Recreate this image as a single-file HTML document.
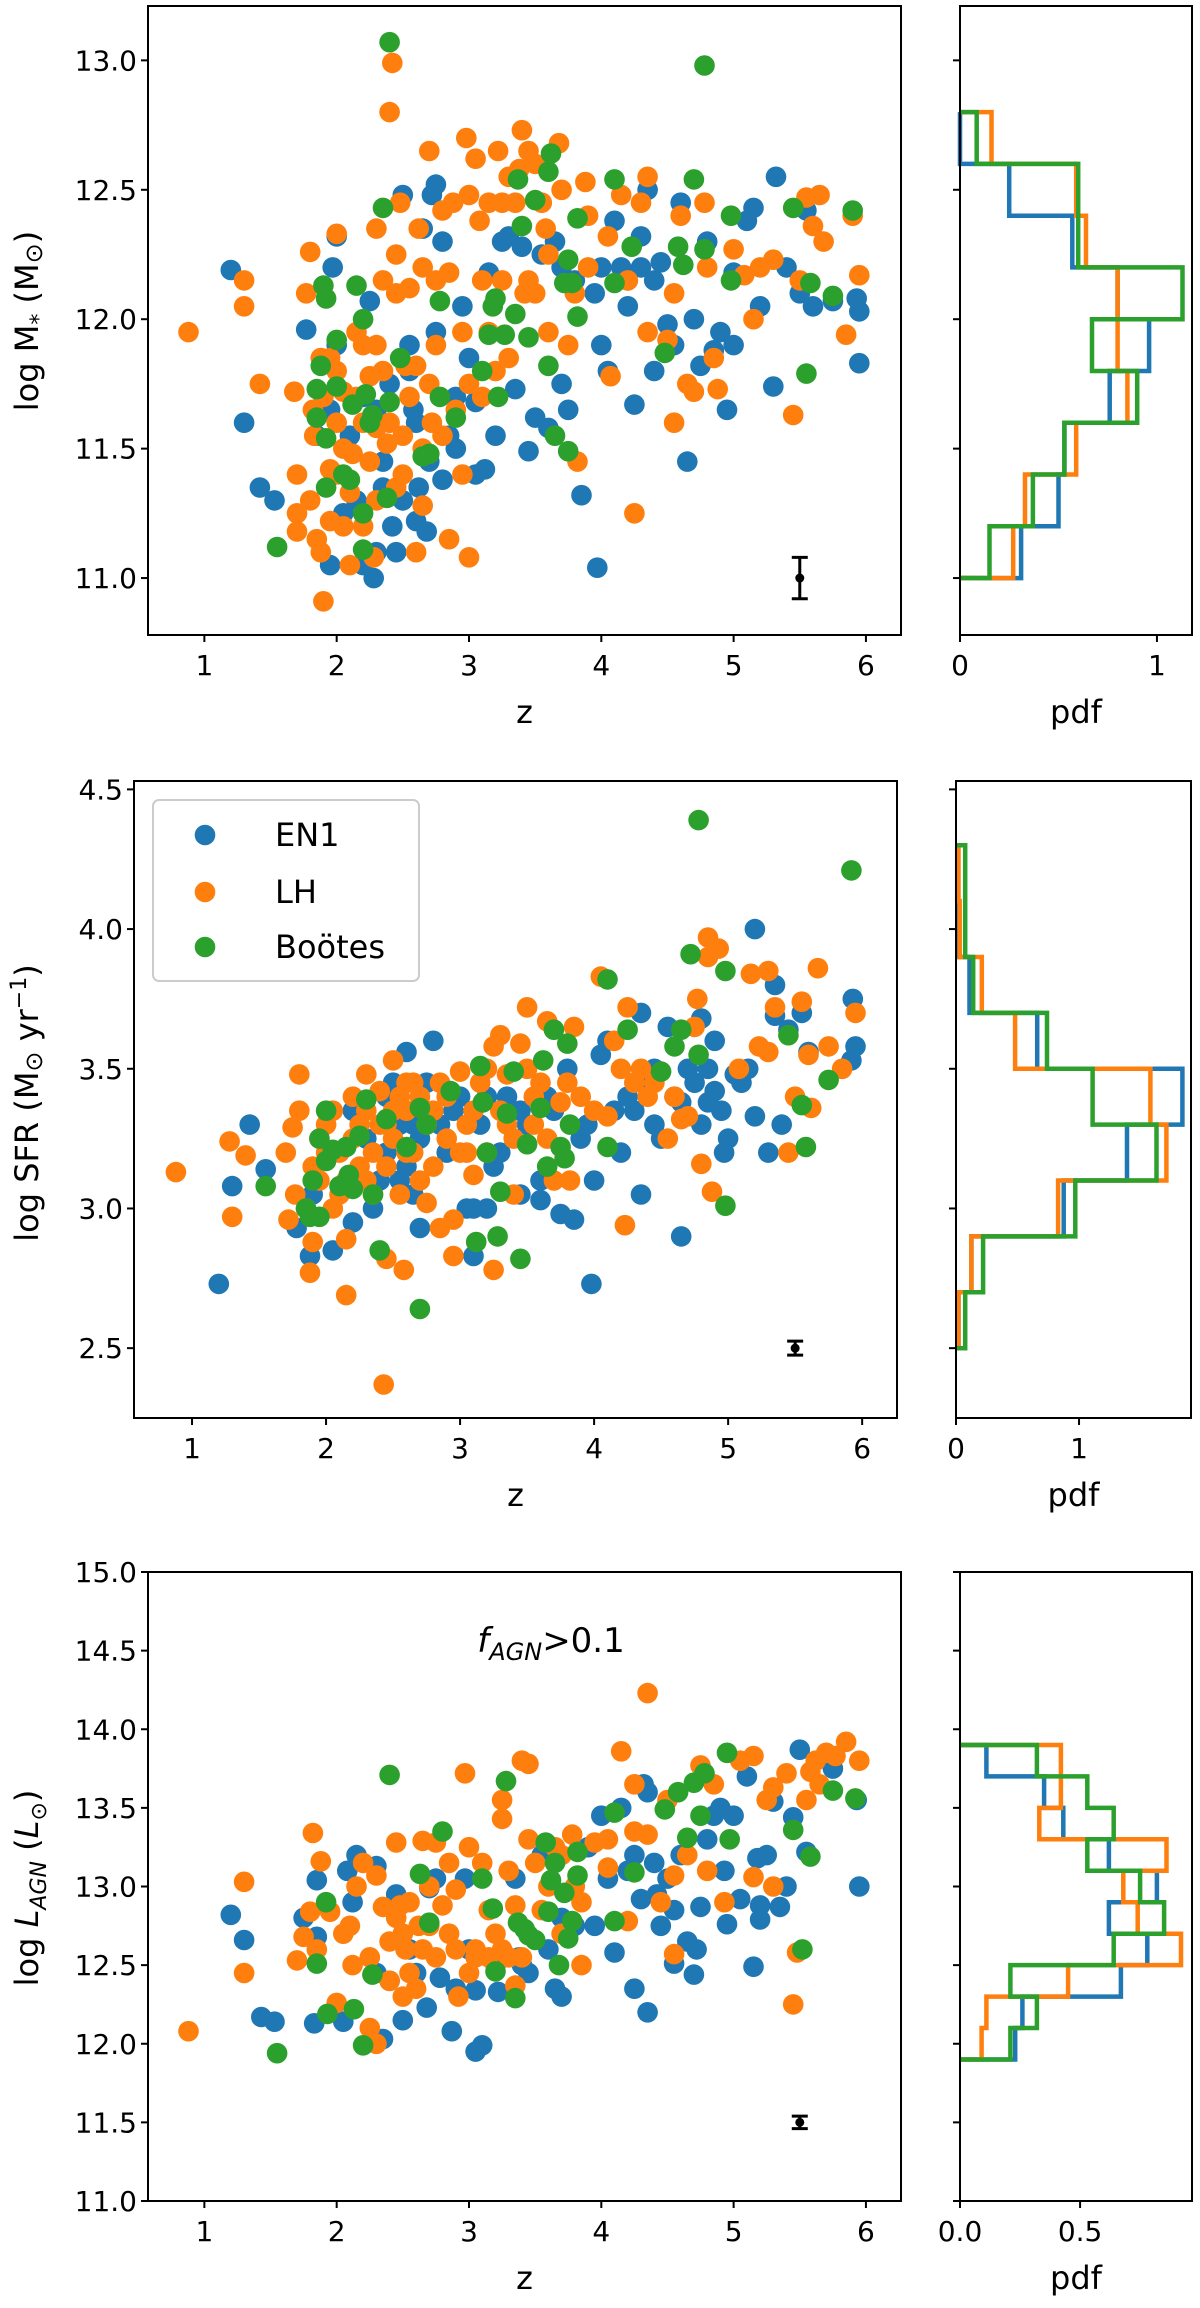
<!DOCTYPE html>
<html><head><meta charset="utf-8"><style>
html,body{margin:0;padding:0;background:#fff}
svg{display:block}
text{font-family:"DejaVu Sans","Liberation Sans",sans-serif;fill:#000}
</style></head><body>
<svg id="fig" width="1200" height="2308" viewBox="0 0 1200 2308" xmlns="http://www.w3.org/2000/svg"></svg>
<script>
// ---------- Panel 1 data: z, log M* ----------
const p1Blue=[[1.2,12.19],[1.3,11.6],[1.42,11.35],[1.53,11.3],[1.77,11.96],[1.97,12.2],[2.0,12.32],[1.95,11.05],[2.05,11.25],[2.2,11.05],[2.28,11.0],[2.3,11.1],[2.45,11.1],[2.5,12.48],[2.55,11.8],[2.6,11.22],[2.65,12.35],[2.72,12.48],[2.75,12.52],[2.8,12.3],[2.85,11.55],[2.95,12.05],[3.05,11.68],[3.05,11.4],[3.12,11.42],[3.15,12.18],[3.2,11.55],[3.3,12.32],[3.35,11.73],[3.45,11.49],[3.5,11.62],[3.6,11.58],[3.7,11.75],[3.75,11.65],[3.85,11.32],[3.97,11.04],[4.0,11.9],[4.05,11.8],[4.1,12.38],[4.2,12.15],[4.25,11.67],[4.3,12.32],[4.35,12.5],[4.4,11.8],[4.45,12.22],[4.5,11.98],[4.6,12.45],[4.65,11.45],[4.7,12.0],[4.75,11.82],[4.8,12.3],[4.85,11.88],[4.9,11.95],[4.95,11.65],[5.0,11.9],[5.1,12.38],[5.15,12.43],[5.2,12.05],[5.3,11.74],[5.32,12.55],[5.4,12.2],[5.5,12.1],[5.55,12.42],[5.6,12.05],[5.75,12.07],[5.93,12.08],[5.95,11.83],[5.95,12.03],[4.0,12.2],[3.8,12.15],[3.65,12.3],[2.25,12.07],[2.3,11.65],[2.4,11.75],[2.6,11.6],[2.55,11.9],[2.9,11.7],[2.7,11.45],[2.35,11.45],[2.1,11.55],[2.2,11.7],[1.95,11.65],[1.85,11.55],[2.15,11.3],[2.5,11.3],[2.8,11.38],[4.55,11.9],[4.3,12.2],[5.0,12.18],[3.4,12.28],[2.0,11.9],[2.58,11.65],[2.62,11.35],[2.68,11.18],[2.42,11.2],[2.35,11.35],[2.9,11.5],[3.0,11.85],[3.25,12.3],[3.55,12.25],[3.95,12.1],[4.15,12.2],[4.4,12.15],[4.2,12.05],[3.7,12.2],[2.75,11.95]];
const p1Orange=[[0.88,11.95],[1.3,12.15],[1.3,12.05],[1.42,11.75],[1.68,11.72],[1.7,11.4],[1.7,11.25],[1.7,11.18],[1.8,12.26],[1.77,12.1],[1.8,11.3],[1.83,11.55],[1.85,11.15],[1.88,11.1],[1.9,10.91],[1.95,11.42],[2.0,12.33],[2.0,11.8],[2.0,11.6],[2.05,11.2],[2.1,11.05],[2.1,11.33],[2.15,11.7],[2.2,11.9],[2.25,11.45],[2.28,11.08],[2.3,12.35],[2.3,11.3],[2.35,12.15],[2.4,12.8],[2.42,12.99],[2.45,12.1],[2.5,11.4],[2.55,12.12],[2.6,11.1],[2.62,12.35],[2.65,12.2],[2.65,11.28],[2.7,12.65],[2.75,11.9],[2.8,12.42],[2.85,12.18],[2.9,11.65],[2.98,12.7],[3.0,11.08],[3.0,12.48],[3.05,12.62],[3.08,12.38],[3.1,12.15],[3.2,11.8],[3.22,12.65],[3.25,12.15],[3.3,12.55],[3.35,12.45],[3.4,12.73],[3.45,12.65],[3.5,12.6],[3.5,12.1],[3.58,12.35],[3.6,11.95],[3.68,12.68],[3.7,12.5],[3.75,11.9],[3.8,12.1],[3.82,11.45],[3.88,12.53],[3.9,12.2],[4.05,12.32],[4.07,11.78],[4.15,12.48],[4.2,12.15],[4.25,11.25],[4.3,12.45],[4.35,12.55],[4.35,11.95],[4.5,11.92],[4.55,12.1],[4.55,11.6],[4.6,12.4],[4.65,11.75],[4.7,11.72],[4.78,12.45],[4.8,12.2],[4.85,11.85],[4.88,11.73],[5.0,12.27],[5.08,12.17],[5.15,12.0],[5.2,12.2],[5.3,12.23],[5.45,11.63],[5.5,12.15],[5.55,12.47],[5.6,12.36],[5.65,12.48],[5.68,12.3],[5.85,11.94],[5.9,12.4],[5.95,12.17],[2.2,11.6],[2.4,11.6],[2.55,11.7],[2.8,11.55],[2.95,11.4],[2.15,11.95],[2.35,11.8],[2.6,11.82],[2.05,11.5],[1.9,11.7],[2.5,11.55],[2.7,11.75],[3.0,11.75],[3.3,11.85],[2.75,12.15],[3.15,11.95],[3.6,12.25],[3.9,12.4],[2.3,11.9],[1.95,11.85],[2.45,11.35],[2.65,11.5],[2.85,11.15],[2.2,11.2],[2.0,11.4],[3.1,11.7],[2.45,12.25],[3.45,12.15],[1.82,11.65],[1.88,11.85],[2.05,11.72],[2.12,11.48],[2.25,11.78],[2.38,11.52],[2.52,11.82],[2.72,11.6],[2.48,12.45],[2.88,12.45],[3.15,12.45],[3.25,12.45],[3.38,12.58],[3.55,12.45],[3.42,12.1],[2.95,11.95],[2.3,11.58],[1.95,11.22]];
const p1Green=[[1.55,11.12],[1.9,12.13],[1.92,12.08],[1.88,11.82],[1.85,11.73],[1.85,11.62],[1.92,11.54],[1.92,11.35],[2.0,11.92],[2.0,11.74],[2.05,11.4],[2.1,11.38],[2.12,11.67],[2.15,12.13],[2.2,12.0],[2.2,11.25],[2.2,11.11],[2.22,11.71],[2.25,11.6],[2.27,11.63],[2.35,12.43],[2.38,11.31],[2.4,13.07],[2.4,11.68],[2.48,11.85],[2.7,11.48],[2.65,11.47],[2.78,12.07],[2.78,11.7],[2.9,11.62],[3.1,11.8],[3.15,11.94],[3.18,12.05],[3.2,12.08],[3.22,11.7],[3.27,11.94],[3.35,12.02],[3.37,12.54],[3.4,12.36],[3.45,11.93],[3.5,12.46],[3.6,11.82],[3.6,12.57],[3.62,12.64],[3.65,11.55],[3.72,12.14],[3.75,12.23],[3.78,12.14],[3.75,11.49],[3.82,12.01],[3.82,12.39],[4.1,12.54],[4.1,12.14],[4.23,12.28],[4.48,11.87],[4.58,12.28],[4.62,12.21],[4.7,12.54],[4.78,12.98],[4.78,12.27],[4.98,12.4],[4.98,12.15],[5.45,12.43],[5.55,11.79],[5.58,12.14],[5.75,12.09],[5.9,12.42]];
const h1Edges=[11.0,11.2,11.4,11.6,11.8,12.0,12.2,12.4,12.6,12.8];
const h1Blue=[0.31,0.5,0.53,0.76,0.96,0.80,0.57,0.25,0.0];
const h1Orange=[0.27,0.33,0.59,0.85,0.80,0.80,0.64,0.59,0.16];
const h1Green=[0.15,0.37,0.53,0.90,0.67,1.13,0.60,0.60,0.085];
const p1YTicks=[11.0,11.5,12.0,12.5,13.0];
// ---------- Panel 2 data: z, log SFR ----------
const p2Blue=[[1.2,2.73],[1.3,3.08],[1.43,3.3],[1.55,3.14],[1.78,2.93],[1.88,2.83],[2.05,2.85],[2.2,2.95],[2.4,3.1],[2.5,3.45],[2.6,3.56],[2.7,2.93],[2.8,3.6],[2.9,3.2],[3.05,3.0],[3.1,3.0],[3.2,3.0],[3.1,2.83],[3.25,3.15],[3.35,3.4],[3.45,3.05],[3.5,3.3],[3.6,3.1],[3.6,3.03],[3.75,2.98],[3.85,2.96],[3.8,3.5],[3.95,3.3],[4.0,3.1],[4.05,3.55],[4.1,3.6],[4.15,3.35],[4.2,3.2],[4.3,3.35],[4.35,3.05],[4.35,3.7],[4.4,3.45],[4.45,3.3],[4.55,3.65],[4.6,3.4],[4.65,2.9],[4.7,3.5],[4.75,3.45],[4.8,3.3],[4.8,3.68],[4.85,3.5],[4.9,3.6],[4.9,3.42],[4.95,3.35],[4.97,3.2],[5.0,3.25],[5.05,3.48],[5.15,3.5],[5.2,3.33],[5.2,4.0],[5.3,3.2],[5.35,3.8],[5.35,3.69],[5.4,3.3],[5.45,3.64],[5.55,3.7],[5.6,3.56],[5.93,3.75],[5.95,3.58],[5.92,3.53],[3.98,2.73],[2.3,3.25],[2.45,3.2],[2.55,3.1],[2.65,3.3],[2.75,3.45],[2.85,3.3],[3.0,3.4],[3.15,3.3],[3.3,3.2],[3.7,3.35],[3.9,3.25],[2.2,3.35],[2.6,3.15],[4.5,3.25],[4.65,3.38],[5.1,3.45],[1.9,3.05],[2.45,3.4],[2.55,3.3],[2.7,3.25],[2.95,3.35],[3.2,3.4],[3.45,3.35],[3.65,3.4],[4.25,3.4],[4.45,3.5],[4.85,3.38],[2.35,3.0],[2.65,3.05]];
const p2Orange=[[0.88,3.13],[1.28,3.24],[1.3,2.97],[1.4,3.19],[1.7,3.2],[1.72,2.96],[1.75,3.29],[1.77,3.05],[1.8,3.35],[1.8,3.48],[1.85,3.0],[1.88,2.77],[1.9,2.88],[1.95,3.1],[2.0,3.3],[2.05,3.0],[2.1,3.2],[2.15,2.69],[2.15,2.89],[2.2,3.4],[2.25,3.15],[2.3,3.48],[2.35,3.05],[2.4,3.3],[2.45,2.82],[2.43,2.37],[2.5,3.53],[2.55,3.4],[2.58,2.78],[2.6,3.2],[2.65,3.45],[2.7,3.1],[2.75,3.02],[2.8,3.35],[2.85,2.93],[2.9,3.25],[2.95,2.96],[2.95,2.83],[3.0,3.49],[3.05,3.3],[3.1,3.12],[3.15,3.45],[3.2,3.2],[3.25,3.58],[3.25,2.78],[3.3,3.62],[3.35,3.48],[3.4,3.25],[3.45,3.59],[3.5,3.72],[3.55,3.3],[3.65,3.67],[3.7,3.1],[3.75,3.38],[3.8,3.45],[3.82,3.1],[3.85,3.65],[3.9,3.4],[4.05,3.83],[4.1,3.33],[4.15,3.6],[4.2,3.5],[4.23,2.94],[4.25,3.72],[4.3,3.45],[4.35,3.5],[4.45,3.45],[4.55,3.25],[4.6,3.4],[4.65,3.32],[4.7,3.33],[4.75,3.65],[4.77,3.75],[4.8,3.16],[4.85,3.97],[4.85,3.9],[4.88,3.06],[4.93,3.93],[5.08,3.5],[5.17,3.84],[5.23,3.58],[5.3,3.56],[5.3,3.85],[5.35,3.72],[5.45,3.2],[5.5,3.4],[5.55,3.74],[5.6,3.55],[5.62,3.36],[5.67,3.86],[5.75,3.58],[5.85,3.5],[5.95,3.7],[2.0,3.2],[2.3,3.35],[2.5,3.25],[2.6,3.35],[2.7,3.4],[2.9,3.4],[3.1,3.35],[3.3,3.35],[3.55,3.4],[2.35,3.2],[2.55,3.05],[2.15,3.1],[2.45,3.15],[3.0,3.2],[2.8,3.15],[3.6,3.45],[3.4,3.05],[3.65,3.25],[4.0,3.35],[2.25,3.3],[1.95,3.25],[1.9,3.15],[2.05,3.35],[2.2,3.25],[2.4,3.42],[2.5,3.35],[2.6,3.45],[2.75,3.3],[2.85,3.45],[3.05,3.2],[3.2,3.5],[3.35,3.3],[2.3,3.1],[2.1,3.05],[2.65,3.2],[2.45,3.3],[3.5,3.5],[4.4,3.4]];
const p2Green=[[1.55,3.08],[1.85,3.0],[1.88,2.97],[1.9,3.1],[1.95,3.25],[1.95,2.97],[2.0,3.35],[2.0,3.17],[2.05,3.21],[2.1,3.08],[2.15,3.22],[2.17,3.12],[2.2,3.07],[2.25,3.26],[2.3,3.39],[2.35,3.05],[2.4,2.85],[2.45,3.32],[2.6,3.22],[2.7,3.36],[2.75,3.3],[2.7,2.64],[2.93,3.42],[3.12,2.88],[3.15,3.51],[3.17,3.38],[3.2,3.2],[3.28,2.9],[3.3,3.06],[3.35,3.34],[3.4,3.49],[3.45,2.82],[3.5,3.23],[3.6,3.36],[3.62,3.53],[3.65,3.15],[3.7,3.64],[3.75,3.22],[3.78,3.18],[3.8,3.59],[3.82,3.3],[4.1,3.22],[4.1,3.82],[4.25,3.64],[4.5,3.49],[4.6,3.58],[4.65,3.64],[4.72,3.91],[4.78,4.39],[4.78,3.55],[4.98,3.85],[4.98,3.01],[5.45,3.62],[5.55,3.37],[5.58,3.22],[5.75,3.46],[5.92,4.21]];
const h2Edges=[2.5,2.7,2.9,3.1,3.3,3.5,3.7,3.9,4.1,4.3];
const h2Blue=[0.02,0.125,0.875,1.39,1.84,0.66,0.11,0.02,0.01];
const h2Orange=[0.02,0.125,0.83,1.71,1.58,0.48,0.21,0.03,0.02];
const h2Green=[0.075,0.22,0.97,1.63,1.11,0.74,0.14,0.075,0.075];
const p2YTicks=[2.5,3.0,3.5,4.0,4.5];
// ---------- Panel 3 data: z, log L_AGN ----------
const p3Blue=[[1.2,12.82],[1.3,12.66],[1.43,12.17],[1.53,12.14],[1.75,12.8],[1.83,12.13],[1.85,13.04],[1.85,12.68],[2.05,12.14],[2.08,13.1],[2.12,12.9],[2.15,13.2],[2.3,13.13],[2.3,12.45],[2.35,12.03],[2.45,12.95],[2.5,12.15],[2.55,12.6],[2.68,12.23],[2.7,12.99],[2.75,13.05],[2.78,12.42],[2.87,12.08],[2.9,12.35],[2.97,13.05],[3.05,11.95],[3.1,11.99],[3.05,12.34],[3.22,12.33],[3.35,13.05],[3.38,12.55],[3.4,12.5],[3.45,12.45],[3.55,13.2],[3.6,12.6],[3.65,12.35],[3.7,12.3],[3.7,12.8],[3.8,12.75],[3.9,13.25],[3.95,12.75],[4.0,13.45],[4.05,13.05],[4.1,12.58],[4.15,13.5],[4.2,13.1],[4.25,13.2],[4.25,12.35],[4.3,12.92],[4.32,13.65],[4.35,13.6],[4.35,12.2],[4.4,13.15],[4.42,12.95],[4.45,12.75],[4.5,13.05],[4.55,12.85],[4.55,12.51],[4.6,13.2],[4.65,12.65],[4.7,12.44],[4.72,12.6],[4.75,12.87],[4.8,13.3],[4.85,13.45],[4.9,13.5],[4.93,13.1],[4.95,12.76],[5.0,13.45],[5.05,12.92],[5.1,13.7],[5.15,12.49],[5.18,13.18],[5.2,12.88],[5.2,12.79],[5.25,13.2],[5.3,13.54],[5.35,12.87],[5.4,13.0],[5.45,13.44],[5.5,13.87],[5.55,13.22],[5.75,13.75],[5.95,13.0],[5.93,13.55],[2.6,12.45],[3.0,12.6],[3.2,12.5],[2.4,12.4]];
const p3Orange=[[0.88,12.08],[1.3,13.03],[1.3,12.45],[1.7,12.53],[1.75,12.68],[1.8,12.84],[1.82,13.34],[1.85,12.6],[1.88,13.16],[1.95,12.84],[2.0,12.26],[2.1,12.75],[2.12,12.5],[2.15,13.0],[2.2,13.15],[2.25,12.1],[2.3,13.07],[2.3,12.0],[2.35,12.87],[2.4,12.4],[2.45,13.28],[2.5,12.7],[2.5,12.3],[2.6,12.35],[2.65,13.29],[2.7,12.75],[2.75,13.28],[2.8,12.88],[2.85,13.15],[2.9,12.98],[2.92,12.3],[2.97,13.72],[3.0,13.25],[3.05,12.6],[3.1,13.15],[3.15,12.55],[3.25,13.55],[3.25,13.43],[3.3,13.1],[3.35,12.88],[3.35,12.37],[3.4,13.8],[3.45,13.78],[3.45,13.3],[3.5,13.15],[3.6,13.0],[3.65,13.25],[3.7,13.2],[3.78,13.33],[3.8,13.0],[3.85,12.9],[3.85,12.5],[3.95,13.28],[4.05,13.3],[4.05,13.12],[4.15,13.86],[4.2,12.78],[4.25,13.65],[4.25,13.35],[4.35,14.23],[4.35,13.33],[4.45,12.9],[4.5,13.55],[4.55,13.07],[4.55,12.57],[4.65,13.2],[4.75,13.77],[4.8,13.1],[4.85,13.65],[4.93,12.9],[5.05,13.8],[5.15,13.83],[5.15,13.06],[5.25,13.55],[5.3,13.63],[5.3,13.0],[5.4,13.72],[5.45,12.25],[5.48,12.58],[5.55,13.55],[5.58,13.73],[5.62,13.8],[5.65,13.65],[5.7,13.85],[5.77,13.83],[5.85,13.92],[5.95,13.8],[2.45,12.8],[2.55,12.9],[2.65,12.6],[2.75,12.55],[2.85,12.7],[3.0,12.45],[3.15,12.85],[2.55,12.45],[2.4,12.65],[3.25,12.6],[2.25,12.55],[2.05,12.7],[3.55,12.85],[3.7,12.7],[3.2,12.7],[2.7,13.0],[2.48,12.88],[2.52,12.6],[2.62,12.75],[2.9,12.6],[3.05,12.55],[3.3,12.55],[3.4,12.55]];
const p3Green=[[1.55,11.94],[1.85,12.51],[1.92,12.9],[1.93,12.19],[2.13,12.22],[2.2,11.99],[2.27,12.44],[2.4,13.71],[2.63,13.08],[2.7,12.77],[2.8,13.35],[3.1,13.05],[3.18,12.86],[3.2,12.46],[3.28,13.67],[3.35,12.29],[3.37,12.77],[3.42,12.73],[3.45,12.69],[3.5,12.66],[3.58,13.28],[3.6,12.84],[3.62,13.04],[3.65,13.15],[3.68,12.5],[3.72,12.96],[3.75,12.67],[3.78,12.78],[3.82,13.22],[3.82,13.07],[4.1,12.78],[4.1,13.47],[4.25,13.09],[4.48,13.49],[4.58,13.6],[4.65,13.31],[4.7,13.66],[4.75,13.45],[4.78,13.72],[4.95,13.85],[4.97,13.3],[5.45,13.36],[5.52,12.6],[5.58,13.19],[5.75,13.61],[5.92,13.56]];
const h3Edges=[11.9,12.1,12.3,12.5,12.7,12.9,13.1,13.3,13.5,13.7,13.9];
const h3Blue=[0.23,0.26,0.67,0.78,0.62,0.82,0.62,0.43,0.35,0.11];
const h3Orange=[0.09,0.11,0.45,0.92,0.74,0.68,0.86,0.33,0.42,0.42];
const h3Green=[0.21,0.32,0.21,0.64,0.85,0.75,0.53,0.64,0.53,0.32];
const p3YTicks=[11.0,11.5,12.0,12.5,13.0,13.5,14.0,14.5,15.0];
const zTicks=[1,2,3,4,5,6];
const errPoints=[[5.5,11.0,0.08],[5.5,2.5,0.025],[5.5,11.5,0.04]];

const C={b:'#1f77b4',o:'#ff7f0e',g:'#2ca02c'};
const NS='http://www.w3.org/2000/svg';
const svg=document.getElementById('fig');
function mk(tag,attrs,parent){const e=document.createElementNS(NS,tag);for(const k in attrs)e.setAttribute(k,attrs[k]);(parent||svg).appendChild(e);return e;}
function lin(d0,d1,r0,r1){return v=>r0+(v-d0)/(d1-d0)*(r1-r0);}

function panel(cfg){
  const g=mk('g',{});
  
  
  const X=lin(cfg.xd[0],cfg.xd[1],cfg.L,cfg.R), Y=lin(cfg.yd[0],cfg.yd[1],cfg.B,cfg.T);
  [[cfg.blue,C.b,'en1'],[cfg.orange,C.o,'lh'],[cfg.green,C.g,'bootes']].forEach(([arr,col,nm])=>{
    const sg=mk('g',{fill:col},g);
    
    
    arr.forEach(p=>{const c=mk('circle',{cx:X(p[0]).toFixed(1),cy:Y(p[1]).toFixed(1),r:10.3},sg);
      
      });
  });
  const e=cfg.err, ex=X(e[0]);
  const eg=mk('g',{stroke:'#000','stroke-width':3},g);
  
  
  mk('line',{x1:ex,x2:ex,y1:Y(e[1]-e[2]),y2:Y(e[1]+e[2])},eg);
  mk('line',{x1:ex-8,x2:ex+8,y1:Y(e[1]-e[2]),y2:Y(e[1]-e[2])},eg);
  mk('line',{x1:ex-8,x2:ex+8,y1:Y(e[1]+e[2]),y2:Y(e[1]+e[2])},eg);
  mk('circle',{cx:ex,cy:Y(e[1]),r:4.5,fill:'#000',stroke:'none'},eg);
  const fr=mk('rect',{x:cfg.L,y:cfg.T,width:cfg.R-cfg.L,height:cfg.B-cfg.T,fill:'none',stroke:'#000','stroke-width':2},g);
  
  
  cfg.yticks.forEach(t=>{const y=Y(t);
    mk('line',{x1:cfg.L-7,x2:cfg.L,y1:y,y2:y,stroke:'#000','stroke-width':2},g);
    const tx=mk('text',{x:cfg.L-11,y:y+10,'text-anchor':'end','font-size':28},g);tx.textContent=t.toFixed(1);
    
    });
  zTicks.forEach(t=>{const x=X(t);
    mk('line',{x1:x,x2:x,y1:cfg.B,y2:cfg.B+7,stroke:'#000','stroke-width':2},g);
    const tx=mk('text',{x:x,y:cfg.B+40,'text-anchor':'middle','font-size':28},g);tx.textContent=t;
    
    });
  const xl=mk('text',{x:(cfg.L+cfg.R)/2,y:cfg.B+88,'text-anchor':'middle','font-size':32},g);xl.textContent='z';
  
  
  const HX=lin(0,cfg.hmax,cfg.HL,cfg.HR);
  const hg=mk('g',{},g);
  
  
  [[cfg.hb,C.b,'en1'],[cfg.ho,C.o,'lh'],[cfg.hg,C.g,'bootes']].forEach(([v,col,nm])=>{
    const ed=cfg.edges;let d='M'+HX(0)+','+Y(ed[0]);
    v.forEach((val,i)=>{d+=' L'+HX(val).toFixed(1)+','+Y(ed[i]).toFixed(1)+' L'+HX(val).toFixed(1)+','+Y(ed[i+1]).toFixed(1);});
    d+=' L'+HX(0)+','+Y(ed[ed.length-1]);
    const p=mk('path',{d:d,fill:'none',stroke:col,'stroke-width':4.5,'stroke-linejoin':'miter'},hg);
    
    
  });
  const hf=mk('rect',{x:cfg.HL,y:cfg.T,width:cfg.HR-cfg.HL,height:cfg.B-cfg.T,fill:'none',stroke:'#000','stroke-width':2},g);
  
  
  cfg.yticks.forEach(t=>{const y=Y(t);mk('line',{x1:cfg.HL-7,x2:cfg.HL,y1:y,y2:y,stroke:'#000','stroke-width':2},g);});
  cfg.hticks.forEach((t,i)=>{const x=HX(t);
    mk('line',{x1:x,x2:x,y1:cfg.B,y2:cfg.B+7,stroke:'#000','stroke-width':2},g);
    const tx=mk('text',{x:x,y:cfg.B+40,'text-anchor':'middle','font-size':28},g);tx.textContent=cfg.hlabels[i];
    
    });
  const pl=mk('text',{x:(cfg.HL+cfg.HR)/2,y:cfg.B+88,'text-anchor':'middle','font-size':32},g);pl.textContent='pdf';
  
  
  return {X,Y,g};
}

panel({name:'stellar-mass',L:148,R:901,T:6,B:635,xd:[0.574,6.265],yd:[10.78,13.21],blue:p1Blue,orange:p1Orange,green:p1Green,err:errPoints[0],yticks:p1YTicks,HL:960,HR:1192,hmax:1.178,edges:h1Edges,hb:h1Blue,ho:h1Orange,hg:h1Green,hticks:[0,1],hlabels:['0','1']});
panel({name:'sfr',L:134,R:897,T:781,B:1418,xd:[0.567,6.26],yd:[2.25,4.53],blue:p2Blue,orange:p2Orange,green:p2Green,err:errPoints[1],yticks:p2YTicks,HL:956,HR:1191,hmax:1.91,edges:h2Edges,hb:h2Blue,ho:h2Orange,hg:h2Green,hticks:[0,1],hlabels:['0','1']});
panel({name:'agn-luminosity',L:148,R:901,T:1572,B:2201,xd:[0.574,6.265],yd:[11,15],blue:p3Blue,orange:p3Orange,green:p3Green,err:errPoints[2],yticks:p3YTicks,HL:960,HR:1192,hmax:0.966,edges:h3Edges,hb:h3Blue,ho:h3Orange,hg:h3Green,hticks:[0,0.5],hlabels:['0.0','0.5']});

function ylab(x,y,html,nm){const t=mk('text',{x:0,y:0,'text-anchor':'middle','font-size':32,transform:'translate('+x+','+y+') rotate(-90)'});t.innerHTML=html;
  
  }
ylab(38,321,'log M<tspan font-size="22" dy="8">*</tspan><tspan dy="-8"> (M</tspan><tspan font-size="24" dy="4">⊙</tspan><tspan dy="-4">)</tspan>','stellar-mass-y-axis-title');
ylab(38,1103,'log SFR (M<tspan font-size="24" dy="4">⊙</tspan><tspan dy="-4"> yr</tspan><tspan font-size="22" dy="-12">−1</tspan><tspan dy="12">)</tspan>','sfr-y-axis-title');
ylab(38,1888,'log <tspan font-style="italic">L</tspan><tspan font-style="italic" font-size="22" dy="8">AGN</tspan><tspan dy="-8"> (</tspan><tspan font-style="italic">L</tspan><tspan font-size="22" dy="8">⊙</tspan><tspan dy="-8">)</tspan>','agn-y-axis-title');

const ann=mk('text',{x:551,y:1652,'text-anchor':'middle','font-size':34});
ann.innerHTML='<tspan font-style="italic">f</tspan><tspan font-style="italic" font-size="24" dy="8">AGN</tspan><tspan dy="-8">&gt;0.1</tspan>';



const lg=mk('g',{});


mk('rect',{x:153,y:800,width:266,height:181,rx:6,fill:'#fff','fill-opacity':0.8,stroke:'#ccc','stroke-width':2},lg);
[['EN1',C.b,835],['LH',C.o,892],['Boötes',C.g,947]].forEach(([lab,col,y])=>{
  const eg=mk('g',{},lg);
  
  
  mk('circle',{cx:205,cy:y,r:10.3,fill:col},eg);
  const t=mk('text',{x:275,y:y+11,'font-size':32},eg);t.textContent=lab;
});
</script>
</body></html>
